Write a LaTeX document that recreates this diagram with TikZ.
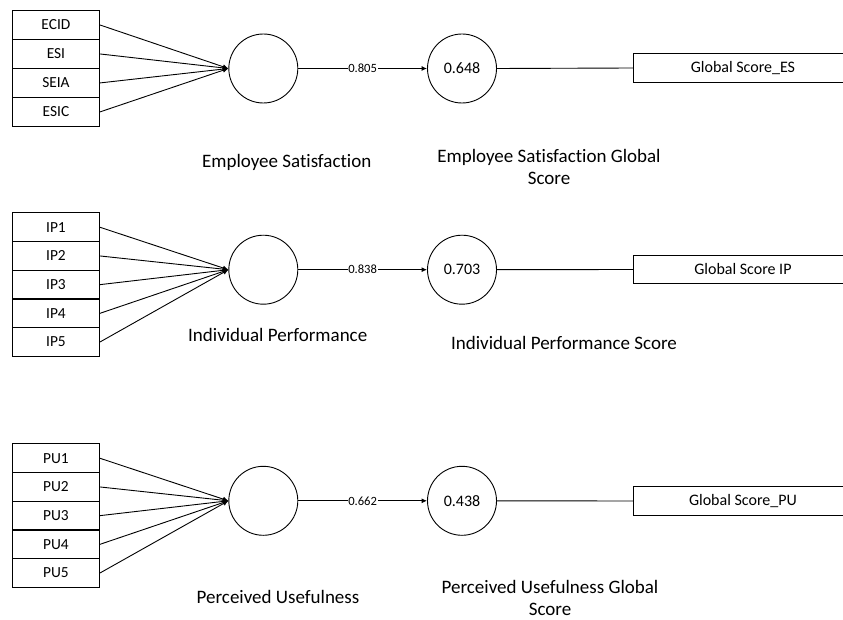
\documentclass[tikz,border=0pt]{standalone}
\usepackage{fontspec}
\setmainfont[Ligatures=NoCommon]{Carlito}
\usetikzlibrary{arrows.meta}
\begin{document}
\begin{tikzpicture}[x=1pt,y=-1pt,
  ind/.style={draw,line width=0.9pt,rectangle,minimum width=87pt,minimum height=29pt,inner sep=0pt,anchor=north west,font=\fontsize{15.4}{18}\selectfont},
  lv/.style={draw,line width=0.9pt,circle,minimum size=69pt,inner sep=0pt,font=\fontsize{16}{19}\selectfont},
  gs/.style={draw,line width=0.9pt,rectangle,minimum width=219pt,minimum height=28.5pt,inner sep=0pt,anchor=west,font=\fontsize{16}{19}\selectfont},
  captext/.style={font=\fontsize{19}{22}\selectfont,align=center,inner sep=0pt},
  wt/.style={font=\fontsize{12.6}{14}\selectfont,fill=white,inner sep=0.6pt},
  ld/.style={line width=0.9pt,-{Latex[length=5.5pt,width=5pt]}},
  pl/.style={line width=0.9pt}
]
\useasboundingbox (0,0) rectangle (843,620);
\clip (0,0) rectangle (843,620);

% ---------- Block 1: Employee Satisfaction ----------
\node[ind] (a1) at (12,10) {ECID};
\node[ind] (a2) at (12,39) {ESI};
\node[ind] (a3) at (12,68) {SEIA};
\node[ind] (a4) at (12,97) {ESIC};
\node[lv] (c1) at (263.3,68.5) {};
\node[lv] (d1) at (462,68.5) {0.648};
\node[gs] (g1) at (633,68) {Global Score\_ES};
\foreach \i in {a1,a2,a3,a4} \draw[ld] (\i.east) -- (c1.west);
\draw[ld] (c1.east) -- node[wt] {0.805} (d1.west);
\draw[pl] (d1.east) -- (g1.west);
\node[captext] (l1) at (286.7,162) {Employee Satisfaction};
\node[captext] (m1) at (549,167) {Employee Satisfaction Global\\Score};

% ---------- Block 2: Individual Performance ----------
\node[ind] (b1) at (12,212.3) {IP1};
\node[ind] (b2) at (12,241) {IP2};
\node[ind] (b3) at (12,269.7) {IP3};
\node[ind] (b4) at (12,298.4) {IP4};
\node[ind] (b5) at (12,327.1) {IP5};
\node[lv] (c2) at (263.3,269.7) {};
\node[lv] (d2) at (462,269.7) {0.703};
\node[gs] (g2) at (633,269.5) {Global Score IP};
\foreach \i in {b1,b2,b3,b4,b5} \draw[ld] (\i.east) -- (c2.west);
\draw[ld] (c2.east) -- node[wt] {0.838} (d2.west);
\draw[pl] (d2.east) -- (g2.west);
\node[captext] (l2) at (277.7,335) {Individual Performance};
\node[captext] (m2) at (564,343) {Individual Performance Score};

% ---------- Block 3: Perceived Usefulness ----------
\node[ind] (p1) at (12,443.3) {PU1};
\node[ind] (p2) at (12,472) {PU2};
\node[ind] (p3) at (12,500.7) {PU3};
\node[ind] (p4) at (12,529.4) {PU4};
\node[ind] (p5) at (12,558.1) {PU5};
\node[lv] (c3) at (263.3,500.8) {};
\node[lv] (d3) at (462,500.8) {0.438};
\node[gs] (g3) at (633,501) {Global Score\_PU};
\foreach \i in {p1,p2,p3,p4,p5} \draw[ld] (\i.east) -- (c3.west);
\draw[ld] (c3.east) -- node[wt] {0.662} (d3.west);
\draw[pl] (d3.east) -- (g3.west);
\node[captext] (l3) at (278,597) {Perceived Usefulness};
\node[captext] (m3) at (550,597.5) {Perceived Usefulness Global\\Score};
\end{tikzpicture}
\end{document}
